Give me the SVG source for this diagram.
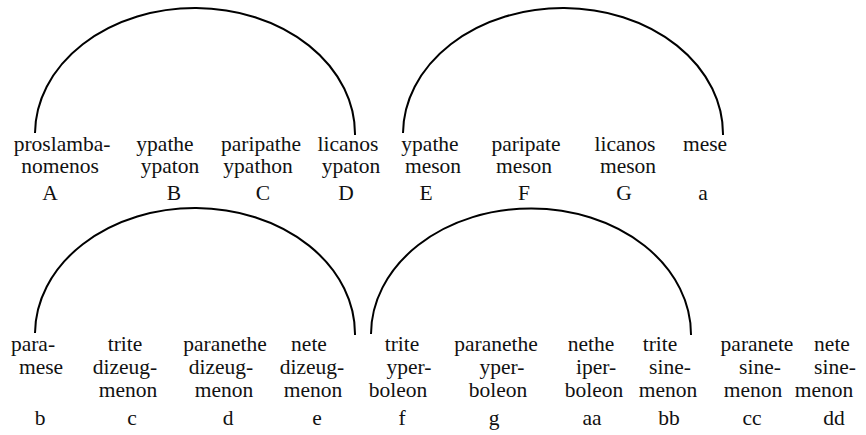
<svg xmlns="http://www.w3.org/2000/svg" width="866" height="435" viewBox="0 0 866 435">
<style>
text{font-size:21.5px;fill:#111;text-anchor:middle}
.arc{fill:none;stroke:#000;stroke-width:2}
</style>
<rect width="866" height="435" fill="#fff"/>
<g id="connectors">
<path class="arc" d="M35,133 A160,126 0 0 1 355,135"/>
<path class="arc" d="M403,133 A160,126 0 0 1 723,135"/>
<path class="arc" d="M35,333 A160,126 0 0 1 355,335"/>
<path class="arc" d="M371,334 A160,126 0 0 1 691,335"/>
</g>
<g font-family="'Liberation Serif', 'DejaVu Serif', serif">
<g id="nA"><text x="62" y="151">proslamba-</text><text x="60" y="173">nomenos</text><text x="50" y="200">A</text></g>
<g id="nB"><text x="165" y="151">ypathe</text><text x="170" y="173">ypaton</text><text x="174" y="200">B</text></g>
<g id="nC"><text x="261" y="151">paripathe</text><text x="258" y="173">ypathon</text><text x="263" y="200">C</text></g>
<g id="nD"><text x="348" y="151">licanos</text><text x="351" y="173">ypaton</text><text x="346" y="200">D</text></g>
<g id="nE"><text x="430" y="151">ypathe</text><text x="433" y="173">meson</text><text x="426" y="200">E</text></g>
<g id="nF"><text x="526" y="151">paripate</text><text x="524" y="173">meson</text><text x="524" y="200">F</text></g>
<g id="nG"><text x="625" y="151">licanos</text><text x="628" y="173">meson</text><text x="624" y="200">G</text></g>
<g id="na"><text x="705" y="151">mese</text><text x="703" y="200">a</text></g>
<g id="nb"><text x="33" y="351">para-</text><text x="41" y="374">mese</text><text x="40" y="425">b</text></g>
<g id="nc"><text x="125" y="351">trite</text><text x="125" y="374">dizeug-</text><text x="128" y="397">menon</text><text x="132" y="425">c</text></g>
<g id="nd"><text x="225" y="351">paranethe</text><text x="221" y="374">dizeug-</text><text x="224" y="397">menon</text><text x="228" y="425">d</text></g>
<g id="ne"><text x="309" y="351">nete</text><text x="312" y="374">dizeug-</text><text x="313" y="397">menon</text><text x="317" y="425">e</text></g>
<g id="nf"><text x="402" y="351">trite</text><text x="409" y="374">yper-</text><text x="398" y="397">boleon</text><text x="402" y="425">f</text></g>
<g id="ng"><text x="496" y="351">paranethe</text><text x="502" y="374">yper-</text><text x="498" y="397">boleon</text><text x="494" y="425">g</text></g>
<g id="naa"><text x="591" y="351">nethe</text><text x="596" y="374">iper-</text><text x="594" y="397">boleon</text><text x="592" y="425">aa</text></g>
<g id="nbb"><text x="660" y="351">trite</text><text x="670" y="374">sine-</text><text x="668" y="397">menon</text><text x="669" y="425">bb</text></g>
<g id="ncc"><text x="757" y="351">paranete</text><text x="760" y="374">sine-</text><text x="753" y="397">menon</text><text x="752" y="425">cc</text></g>
<g id="ndd"><text x="832" y="351">nete</text><text x="835" y="374">sine-</text><text x="824" y="397">menon</text><text x="834" y="425">dd</text></g>
</g>
</svg>
